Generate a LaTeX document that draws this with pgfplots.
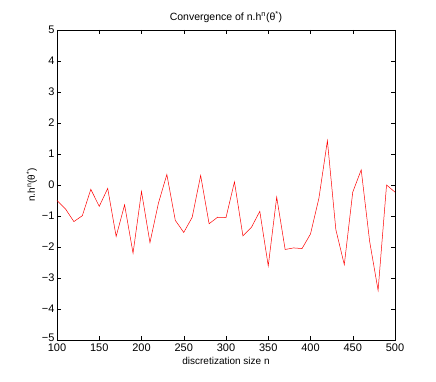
\documentclass[border=0pt]{standalone}
\usepackage{fontspec}
\setmainfont{Liberation Sans}
\usepackage{pgfplots}
\pgfplotsset{compat=1.18}
\begin{document}
\begin{tikzpicture}
\useasboundingbox (-57pt,-42pt) rectangle (379pt,340pt);
\begin{axis}[
  at={(0,0)}, anchor=south west,
  scale only axis, width=338pt, height=310pt,
  xmin=100, xmax=500, ymin=-5, ymax=5,
  xtick={100,150,...,500}, ytick={-5,-4,...,5},
  yticklabels={\raisebox{4pt}{−5},−4,−3,−2,−1,0,1,2,3,4,5},
  major tick length=4pt,
  tick style={black, line width=0.4pt},
  axis line style={line width=0.5pt},
  /pgf/number format/assume math mode=true,
  ticklabel style={font=\fontsize{11}{13}\selectfont},
  xticklabel style={yshift=0pt},
  yticklabel style={xshift=1pt},
  label style={font=\fontsize{10}{12}\selectfont},
  title style={font=\fontsize{10.5}{12}\selectfont, yshift=-2pt},
  title={Convergence of n.h\textsuperscript{n}(θ\textsuperscript{*})},
  xlabel={discretization size n},
  ylabel={n.h\textsuperscript{n}(θ\textsuperscript{*})},
  xlabel style={yshift=1pt},
  ylabel style={yshift=-2pt},
]
\addplot[red, line width=0.5pt] coordinates {
(100,-0.50) (110,-0.77) (120,-1.18) (130,-0.99) (140,-0.14) (150,-0.69)
(160,-0.11) (170,-1.66) (180,-0.64) (190,-2.20) (200,-0.21) (210,-1.86)
(220,-0.59) (230,0.34) (240,-1.14) (250,-1.53) (260,-1.04) (270,0.31)
(280,-1.25) (290,-1.04) (300,-1.05) (310,0.10) (320,-1.64) (330,-1.37)
(340,-0.85) (350,-2.61) (360,-0.39) (370,-2.08) (380,-2.03) (390,-2.05)
(400,-1.58) (410,-0.42) (420,1.43) (430,-1.44) (440,-2.57) (450,-0.23)
(460,0.49) (470,-1.82) (480,-3.40) (490,0.00) (500,-0.23)
};
\end{axis}
\end{tikzpicture}
\end{document}
